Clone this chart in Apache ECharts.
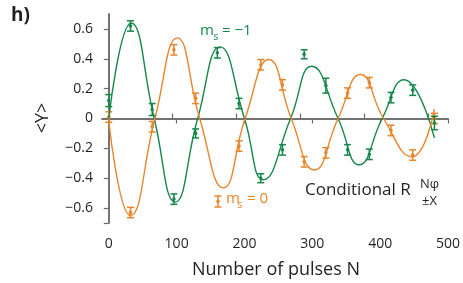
<!DOCTYPE html>
<html>
<head>
<meta charset="utf-8">
<script src="https://cdn.jsdelivr.net/npm/echarts@6/dist/echarts.min.js"></script>
<style>
  html, body { margin: 0; padding: 0; background: #fff; }
  #chart { width: 463px; height: 283px; }
</style>
</head>
<body>
<div id="chart"></div>
<script>
// measured points (m_s = -1, green)
const xGreen = [0, 32, 64, 96, 128, 160, 192, 224, 256, 288, 320, 352, 384, 416, 448, 480];
const yGreen = [0.12, 0.62, 0.06, -0.54, -0.10, 0.44, 0.10, -0.40, -0.21, 0.43, 0.22, -0.21, -0.24, 0.14, 0.19, -0.03];
const errGreen = [0.04, 0.035, 0.04, 0.035, 0.03, 0.035, 0.035, 0.03, 0.035, 0.03, 0.05, 0.035, 0.035, 0.035, 0.035, 0.045];

// measured points (m_s = 0, orange)
const xOrange = [0, 32, 64, 96, 128, 192, 224, 256, 288, 320, 352, 384, 416, 448, 480];
const yOrange = [0.01, -0.63, -0.055, 0.46, 0.135, -0.185, 0.36, 0.225, -0.29, -0.23, 0.17, 0.24, -0.08, -0.245, 0.0];
const errOrange = [0.035, 0.035, 0.035, 0.035, 0.035, 0.035, 0.035, 0.035, 0.035, 0.035, 0.035, 0.035, 0.035, 0.035, 0.035];

// fit curves, read at extrema and zero crossings
const fitGreenX = [0, 33, 67, 98, 131, 164, 200, 228, 268, 299, 338, 369, 403, 435, 480];
const fitGreenY = [0.0, 0.64, 0, -0.56, 0, 0.48, 0, -0.41, 0, 0.35, 0, -0.31, 0, 0.26, -0.13];
const fitOrangeX = [0, 32, 68, 101, 134, 169, 201, 236, 269, 303, 338, 371, 405, 447, 480];
const fitOrangeY = [-0.02, -0.65, 0, 0.54, 0, -0.465, 0, 0.395, 0, -0.345, 0, 0.295, 0, -0.256, 0.063];

// ticks
const xTicks = [0, 100, 200, 300, 400, 500];
const topTicks = [0, 94.2, 188.4, 282.6, 376.8, 471];
const yTicks = [-0.6, -0.4, -0.2, 0, 0.2, 0.4, 0.6];

const GREEN = '#16874a';
const ORANGE = '#e8852b';
const AXIS = '#6b6b6b';
const TEXT = '#231f20';
const FONT = '"Open Sans", sans-serif';

function errBars(color) {
  return function (params, api) {
    const x = api.value(0), y = api.value(1), e = api.value(2);
    const top = api.coord([x, y + e]);
    const bot = api.coord([x, y - e]);
    const mid = api.coord([x, y]);
    const w = 3.5;
    const st = { stroke: color, lineWidth: 1.5 };
    return {
      type: 'group',
      children: [
        { type: 'line', shape: { x1: top[0], y1: top[1], x2: bot[0], y2: bot[1] }, style: st },
        { type: 'line', shape: { x1: top[0] - w, y1: top[1], x2: top[0] + w, y2: top[1] }, style: st },
        { type: 'line', shape: { x1: bot[0] - w, y1: bot[1], x2: bot[0] + w, y2: bot[1] }, style: st },
        { type: 'circle', shape: { cx: mid[0], cy: mid[1], r: 1.8 }, style: { fill: color } }
      ]
    };
  };
}

const zip = (xs, ys) => xs.map((x, i) => [x, ys[i]]);

const chart = echarts.init(document.getElementById('chart'), null, { renderer: 'canvas' });

const axisLine = { show: true, lineStyle: { color: AXIS, width: 1.5 } };

chart.setOption({
  animation: false,
  grid: { left: 102, right: 13, top: 14, bottom: 60 },
  xAxis: [
    {
      type: 'value', min: -10, max: 500, position: 'bottom',
      axisLine: axisLine,
      axisTick: { customValues: xTicks, length: 5, lineStyle: { color: AXIS, width: 1.2 } },
      axisLabel: { customValues: xTicks, fontSize: 14, color: TEXT, fontFamily: FONT, margin: 14 },
      splitLine: { show: false }
    },
    {
      type: 'value', min: -10, max: 500, position: 'top',
      axisLine: axisLine,
      axisTick: { customValues: topTicks, length: 5, lineStyle: { color: AXIS, width: 1.2 } },
      axisLabel: { show: false },
      splitLine: { show: false }
    }
  ],
  yAxis: [
    {
      type: 'value', min: -0.7, max: 0.7, position: 'left',
      axisLine: axisLine,
      axisTick: { customValues: yTicks.concat([-0.7]), length: 5, lineStyle: { color: AXIS, width: 1.2 } },
      axisLabel: {
        customValues: yTicks, fontSize: 14, color: TEXT, fontFamily: FONT, margin: 9,
        formatter: v => (v === 0 ? '0' : v.toFixed(1).replace('-', '\u2212'))
      },
      splitLine: { show: false }
    },
    {
      type: 'value', min: -0.7, max: 0.7, position: 'right',
      axisLine: axisLine,
      axisTick: { show: false },
      axisLabel: { show: false },
      splitLine: { show: false }
    }
  ],
  series: [
    {
      type: 'line', data: zip(fitGreenX, fitGreenY), smooth: 0.5, showSymbol: false,
      lineStyle: { color: GREEN, width: 1.4 }
    },
    {
      type: 'line', data: zip(fitOrangeX, fitOrangeY), smooth: 0.5, showSymbol: false,
      lineStyle: { color: ORANGE, width: 1.4 }
    },
    {
      type: 'custom', renderItem: errBars(ORANGE),
      data: xOrange.map((x, i) => [x, yOrange[i], errOrange[i]]), z: 3
    },
    {
      type: 'custom', renderItem: errBars(GREEN),
      data: xGreen.map((x, i) => [x, yGreen[i], errGreen[i]]), z: 4
    }
  ],
  graphic: [
    { type: 'text', left: 11, top: 6, style: { text: 'h)', font: 'bold 19px ' + FONT, fill: TEXT } },
    {
      type: 'text', x: 43, y: 118, rotation: Math.PI / 2,
      style: { text: '<Y>', font: '18px ' + FONT, fill: TEXT, align: 'center', verticalAlign: 'middle' }
    },
    {
      type: 'text', x: 276, y: 270,
      style: { text: 'Number of pulses N', font: '18px ' + FONT, fill: TEXT, align: 'center', verticalAlign: 'middle' }
    },
    // m_s = -1 label
    { type: 'text', x: 200, y: 31, style: { text: 'm', font: '15px ' + FONT, fill: GREEN, verticalAlign: 'middle' } },
    { type: 'text', x: 213.5, y: 37, style: { text: 's', font: '10px ' + FONT, fill: GREEN, verticalAlign: 'middle' } },
    { type: 'text', x: 222, y: 31, style: { text: '= \u22121', font: '15px ' + FONT, fill: GREEN, verticalAlign: 'middle' } },
    // m_s = 0 legend
    {
      type: 'group', children: [
        { type: 'line', shape: { x1: 218, y1: 196, x2: 218, y2: 207 }, style: { stroke: ORANGE, lineWidth: 1.5 } },
        { type: 'line', shape: { x1: 214.5, y1: 196, x2: 221.5, y2: 196 }, style: { stroke: ORANGE, lineWidth: 1.5 } },
        { type: 'line', shape: { x1: 214.5, y1: 207, x2: 221.5, y2: 207 }, style: { stroke: ORANGE, lineWidth: 1.5 } },
        { type: 'circle', shape: { cx: 218, cy: 201.5, r: 1.8 }, style: { fill: ORANGE } }
      ]
    },
    { type: 'text', x: 226, y: 199, style: { text: 'm', font: '15px ' + FONT, fill: ORANGE, verticalAlign: 'middle' } },
    { type: 'text', x: 237.5, y: 205, style: { text: 's', font: '10px ' + FONT, fill: ORANGE, verticalAlign: 'middle' } },
    { type: 'text', x: 247, y: 199, style: { text: '= 0', font: '15px ' + FONT, fill: ORANGE, verticalAlign: 'middle' } },
    // Conditional R label
    { type: 'text', x: 305, y: 190, style: { text: 'Conditional R', font: '17px ' + FONT, fill: TEXT, verticalAlign: 'middle' } },
    { type: 'text', x: 420, y: 184, style: { text: 'N\u03C6', font: '13px ' + FONT, fill: TEXT, verticalAlign: 'middle' } },
    { type: 'text', x: 422, y: 201, style: { text: '\u00B1X', font: '13px ' + FONT, fill: TEXT, verticalAlign: 'middle' } }
  ]
});
</script>
</body>
</html>
